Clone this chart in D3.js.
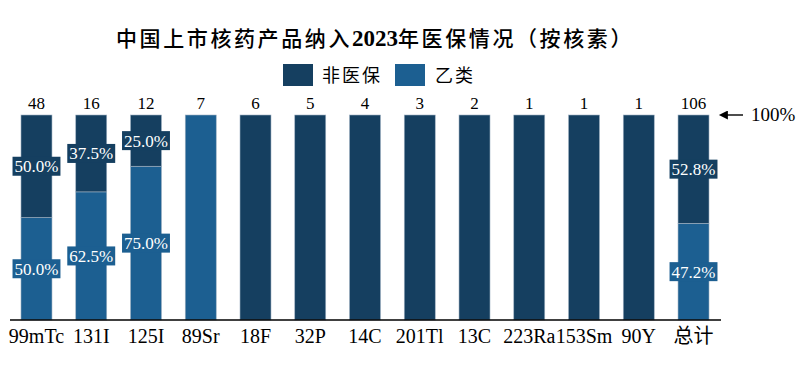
<!DOCTYPE html>
<html><head><meta charset="utf-8">
<script src="https://cdn.jsdelivr.net/npm/d3@7"></script>
<style>
html,body{margin:0;padding:0;background:#fff;}
svg{display:block;}
</style></head>
<body>
<svg id="chart" width="799" height="380"></svg>
<script>
const categories = ["99mTc","131I","125I","89Sr","18F","32P","14C","201Tl","13C","223Ra","153Sm","90Y","总计"];
const yiValues   = [24,10,9,7,0,0,0,0,0,0,0,0,50];   // 乙类
const nonValues  = [24,6,3,0,6,5,4,3,2,1,1,1,56];    // 非医保
const seriesNames = ["非医保","乙类"];
const titleParts = ["中国上市核药产品纳入","2023","年医保情况（按核素）"];

const colors = {"非医保":"#153f60","乙类":"#1c5f91"};
const serif = "'Liberation Serif','Times New Roman','Noto Sans CJK SC',serif";

const svg = d3.select("#chart");

const x = d3.scaleBand().domain(categories).range([9, 721]).paddingInner(0.434).paddingOuter(0.219);
const y = d3.scaleLinear().domain([0, 1]).range([320, 115]);

const rows = categories.map((c, i) => {
  const tot = yiValues[i] + nonValues[i];
  return {cat: c, total: tot, "乙类": yiValues[i] / tot, "非医保": nonValues[i] / tot};
});
const layers = d3.stack().keys(["乙类","非医保"])(rows);

// title
const tt = svg.append("text").attr("x", 375).attr("y", 46).attr("text-anchor","middle")
  .attr("font-family", serif).attr("font-size", 21).attr("letter-spacing", 2.6)
  .attr("fill","#000");
titleParts.forEach((p, i) => {
  tt.append("tspan").attr("font-weight", i === 1 ? "bold" : 500)
    .attr("font-size", i === 1 ? 23 : 21).attr("letter-spacing", i === 1 ? 0 : 2.6).text(p);
});

// legend
const legItems = [{k:"非医保", x:283, tx:322},{k:"乙类", x:395, tx:435}];
legItems.forEach(d => {
  svg.append("rect").attr("x", d.x).attr("y", 64).attr("width", 30).attr("height", 22).attr("fill", colors[d.k]);
  svg.append("text").attr("x", d.tx).attr("y", 82).attr("font-family", serif).attr("font-size", 18)
    .attr("letter-spacing", 2).attr("fill","#000").text(d.k);
});

// bars
const g = svg.append("g");
layers.forEach(layer => {
  g.selectAll(null).data(layer).enter().append("rect")
    .attr("x", d => x(d.data.cat))
    .attr("width", x.bandwidth())
    .attr("y", d => y(d[1]))
    .attr("height", d => y(d[0]) - y(d[1]))
    .attr("fill", colors[layer.key])
    .attr("stroke", "#9fb1c2").attr("stroke-width", 0.6);
});

// percentage labels (only for split bars)
layers.forEach(layer => {
  layer.forEach(d => {
    const frac = d[1] - d[0];
    if (frac <= 0 || frac >= 1) return;
    const cx = x(d.data.cat) + x.bandwidth() / 2;
    const cy = (y(d[0]) + y(d[1])) / 2;
    const txt = (frac * 100).toFixed(1) + "%";
    const t = g.append("text").attr("x", cx).attr("y", cy + 6).attr("text-anchor","middle")
      .attr("font-family", serif).attr("font-size", 17).attr("fill","#fff").text(txt);
    const bb = t.node().getBBox();
    g.insert("rect", () => t.node())
      .attr("x", bb.x - 2).attr("y", cy - 9.5).attr("width", bb.width + 4).attr("height", 19)
      .attr("fill", colors[layer.key]);
  });
});

// totals on top
g.selectAll(null).data(rows).enter().append("text")
  .attr("x", d => x(d.cat) + x.bandwidth() / 2).attr("y", 109)
  .attr("text-anchor","middle").attr("font-family", serif).attr("font-size", 17).attr("fill","#000")
  .text(d => d.total);

// x axis
const xAxis = d3.axisBottom(x).tickSize(0).tickPadding(9);
const ax = svg.append("g").attr("transform", "translate(0,320)").call(xAxis);
ax.select(".domain").attr("stroke","#000").attr("stroke-width",1.5).attr("d","M10,0H721");
ax.selectAll("text").attr("font-family", serif).attr("font-size", 20).attr("fill","#000");

// 100% annotation
svg.append("defs").append("marker").attr("id","ah").attr("viewBox","0 0 10 10")
  .attr("refX", 1).attr("refY", 5).attr("markerWidth", 11).attr("markerHeight", 9).attr("orient","auto")
  .attr("markerUnits","userSpaceOnUse")
  .append("path").attr("d","M0,0L10,5L0,10z").attr("fill","#000");
svg.append("line").attr("x1", 743).attr("y1", y(1)).attr("x2", 727).attr("y2", y(1))
  .attr("stroke","#000").attr("stroke-width",1.4).attr("marker-end","url(#ah)");
svg.append("text").attr("x", 751).attr("y", 121).attr("font-family", serif).attr("font-size", 19)
  .attr("fill","#000").text("100%");
</script>
</body></html>
